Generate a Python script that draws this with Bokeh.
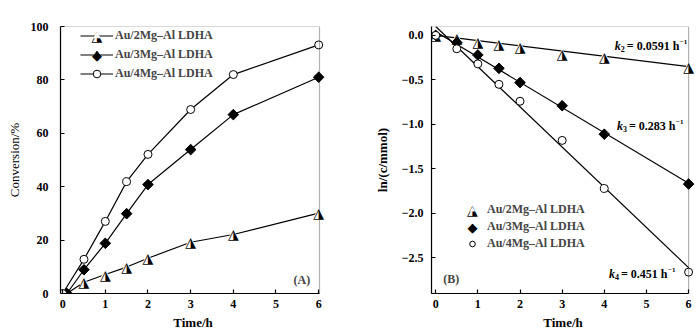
from bokeh.plotting import figure
from bokeh.layouts import row
from bokeh.models import Legend, LegendItem, Label, FixedTicker, BoxAnnotation
from bokeh.core.properties import value
from bokeh.embed import file_html
from bokeh.resources import INLINE

# ---------------- data ----------------
series_names = ["Au/2Mg\u2013Al LDHA", "Au/3Mg\u2013Al LDHA", "Au/4Mg\u2013Al LDHA"]

# panel (A): conversion vs time
time_a_2mg = [0.1, 0.5, 1, 1.5, 2, 3, 4, 6]
time_a_3mg = [0.1, 0.5, 1, 1.5, 2, 3, 4, 6]
time_a_4mg = [0, 0.5, 1, 1.5, 2, 3, 4, 6]
conv_2mg = [0, 4.2, 7.1, 9.9, 13.2, 19.2, 22.1, 30.1]
conv_3mg = [0, 8.9, 18.8, 29.9, 40.8, 53.9, 67.0, 81.0]
conv_4mg = [0, 12.8, 27.0, 41.9, 52.1, 68.9, 82.0, 93.1]

# panel (B): ln(c) vs time
time_b = [0, 0.5, 1, 1.5, 2, 3, 4, 6]
ln_2mg = [0, -0.03, -0.07, -0.10, -0.13, -0.21, -0.24, -0.36]
ln_3mg = [0, -0.08, -0.22, -0.37, -0.53, -0.79, -1.11, -1.67]
ln_4mg = [0, -0.15, -0.32, -0.55, -0.74, -1.18, -1.72, -2.66]

# linear fits (end points)
fit_x = [0, 6]
fit_2mg = [0.0, -0.35]
fit_3mg = [0.04, -1.66]
fit_4mg = [0.10, -2.61]

k_values = ["0.0591", "0.283", "0.451"]
k_subs = ["2", "3", "4"]

x_ticks = [0, 1, 2, 3, 4, 5, 6]
y_ticks_a = [0, 20, 40, 60, 80, 100]
y_ticks_b = [0.0, -0.5, -1.0, -1.5, -2.0, -2.5]
y_tick_labels_b = ["0.0", "\u22120.5", "\u22121.0", "\u22121.5", "\u22122.0", "\u22122.5"]

FONT = "Liberation Serif"
HALF_TRI = "\u25ee"  # up-pointing triangle with right half black
DIAMOND = "\u25c6"
TRI_FONT_PX = 14

# approximate Times-Bold advance widths (em) for placing the superscript
_W = {"=": 0.57, " ": 0.25, ".": 0.25, "h": 0.556}


def text_width(s, px):
    return sum(_W.get(c, 0.5) for c in s) * px


def style_axes(p, xb, yb):
    p.grid.visible = False
    p.outline_line_color = None
    for ax in [p.xaxis[0], p.yaxis[0]]:
        ax.major_tick_in = 4
        ax.major_tick_out = 0
        ax.minor_tick_in = 0
        ax.minor_tick_out = 0
        ax.axis_line_width = 1.2
        ax.major_tick_line_width = 1.2
        ax.major_label_text_font = FONT
        ax.major_label_text_font_style = "bold"
        ax.major_label_text_font_size = "12px"
        ax.major_label_text_color = "black"
        ax.axis_label_text_font = FONT
        ax.axis_label_text_font_size = "13px"
        ax.axis_label_text_color = "black"
    p.xaxis.bounds = xb
    p.yaxis.bounds = yb
    p.xaxis.ticker = FixedTicker(ticks=x_ticks)
    p.xaxis.axis_label = "Time/h"
    p.xaxis.axis_label_text_font_style = "bold"
    p.xaxis.major_label_standoff = 6
    p.xaxis.axis_label_standoff = 4
    p.add_layout(BoxAnnotation(left=xb[0], right=xb[1], bottom=yb[0], top=yb[1],
                               fill_alpha=0, line_color="black", line_width=1.2))


def half_tri(p, x, y):
    # white body (hides lines) + half-black triangle glyph
    body = p.scatter(x, y, marker="triangle", size=9, fill_color="white", line_color=None)
    p.text(x=x, y=y, text=[HALF_TRI] * len(x), text_font=value("DejaVu Sans"),
           text_font_size=f"{TRI_FONT_PX}px", text_align="center",
           text_baseline="middle", text_color="black")
    return body


def legend_sym(p, sx, sy, sym, px):
    p.add_layout(Label(x=sx, y=sy, x_units="screen", y_units="screen", text=sym,
                       text_font="DejaVu Sans", text_font_size=f"{px}px",
                       text_align="center", text_baseline="middle", text_color="black"))


def diamond(p, x, y):
    # narrow diamond underneath (legend sample) + rotated square on top
    under = p.scatter(x, y, marker="diamond", size=9, fill_color="black", line_color="black")
    p.scatter(x, y, marker="square", angle=0.7854, size=7.5,
              fill_color="black", line_color="black")
    return under


def circles(p, x, y):
    return p.scatter(x, y, marker="circle", size=8, fill_color="white", line_color="black")


def make_legend(items, loc, gw, gh, standoff):
    return Legend(items=items, location=loc, glyph_width=gw, glyph_height=gh, label_height=gh,
                  spacing=0, padding=0, margin=0, label_standoff=standoff,
                  border_line_color=None, background_fill_alpha=0,
                  label_text_font=FONT, label_text_font_style="bold",
                  label_text_font_size="12px")


# ---------------- panel A ----------------
p1 = figure(width=350, height=332, x_range=(-0.05, 6.16), y_range=(0, 100),
            output_backend="svg", toolbar_location=None,
            min_border_left=60, min_border_right=25, min_border_top=26, min_border_bottom=39)
style_axes(p1, (-0.05, 6.02), (0, 100))
p1.yaxis.ticker = FixedTicker(ticks=y_ticks_a)
p1.yaxis.axis_label = "Conversion/%"
p1.yaxis.axis_label_text_font_style = "normal"
p1.yaxis.major_label_standoff = 12
p1.yaxis.axis_label_standoff = 6

l1 = p1.line(time_a_2mg, conv_2mg, line_color="black", line_width=1.2)
l2 = p1.line(time_a_3mg, conv_3mg, line_color="black", line_width=1.2)
l3 = p1.line(time_a_4mg, conv_4mg, line_color="black", line_width=1.2)
t1 = half_tri(p1, time_a_2mg, conv_2mg)
d1 = diamond(p1, time_a_3mg, conv_3mg)
c1 = circles(p1, time_a_4mg, conv_4mg)

p1.add_layout(make_legend([LegendItem(label=series_names[0], renderers=[l1, t1]),
                           LegendItem(label=series_names[1], renderers=[l2, d1]),
                           LegendItem(label=series_names[2], renderers=[l3, c1])],
                          (20, 210), 33, 19, 2))
legend_sym(p1, 36.5, 257.5, HALF_TRI, TRI_FONT_PX)
legend_sym(p1, 36.5, 238.5, DIAMOND, 13)
p1.add_layout(Label(x=5.41, y=5.2, text="(A)", text_font=FONT, text_font_style="bold",
                    text_font_size="12px", text_baseline="middle"))

# ---------------- panel B ----------------
p2 = figure(width=350, height=332, x_range=(-0.1, 6.14), y_range=(-2.9, 0.1),
            output_backend="svg", toolbar_location=None,
            min_border_left=81, min_border_right=6, min_border_top=24, min_border_bottom=39)
style_axes(p2, (-0.1, 6.0), (-2.9, 0.1))
p2.yaxis.ticker = FixedTicker(ticks=y_ticks_b)
p2.yaxis.major_label_overrides = {t: s for t, s in zip(y_ticks_b, y_tick_labels_b)}
p2.yaxis.axis_label = "ln/(c/mmol)"
p2.yaxis.axis_label_text_font_style = "bold"
p2.yaxis.major_label_standoff = 8
p2.yaxis.axis_label_standoff = 9

for fy in [fit_2mg, fit_3mg, fit_4mg]:
    p2.line(fit_x, fy, line_color="black", line_width=1.2)

t2 = half_tri(p2, time_b, ln_2mg)
d2 = diamond(p2, time_b, ln_3mg)
c2 = circles(p2, time_b, ln_4mg)

p2.add_layout(make_legend([LegendItem(label=series_names[0], renderers=[t2]),
                           LegendItem(label=series_names[1], renderers=[d2]),
                           LegendItem(label=series_names[2], renderers=[c2])],
                          (34, 41), 14, 17, 8))
legend_sym(p2, 41, 83.5, HALF_TRI, TRI_FONT_PX)
legend_sym(p2, 41, 66.5, DIAMOND, 13)

k_pos = [(4.25, -0.122), (4.30, -1.022), (4.11, -2.678)]
for (kx, ky), sub, kv in zip(k_pos, k_subs, k_values):
    common = dict(x=kx, y=ky, text_font=FONT, text_baseline="middle", text_color="black")
    main = "= " + kv + " h"
    p2.add_layout(Label(text="k", text_font_style="bold italic", text_font_size="12px", **common))
    p2.add_layout(Label(text=sub, text_font_style="bold", text_font_size="8px",
                        x_offset=6, y_offset=-3, **common))
    p2.add_layout(Label(text=main, text_font_style="bold", text_font_size="12px",
                        x_offset=12, **common))
    p2.add_layout(Label(text="\u22121", text_font_style="bold", text_font_size="7px",
                        x_offset=12 + text_width(main, 12) + 0.5, y_offset=4, **common))

p2.add_layout(Label(x=0.18, y=-2.733, text="(B)", text_font=FONT, text_font_style="bold",
                    text_font_size="12px", text_baseline="middle"))

layout = row(p1, p2)
open("out.html", "w").write(file_html(layout, INLINE))
